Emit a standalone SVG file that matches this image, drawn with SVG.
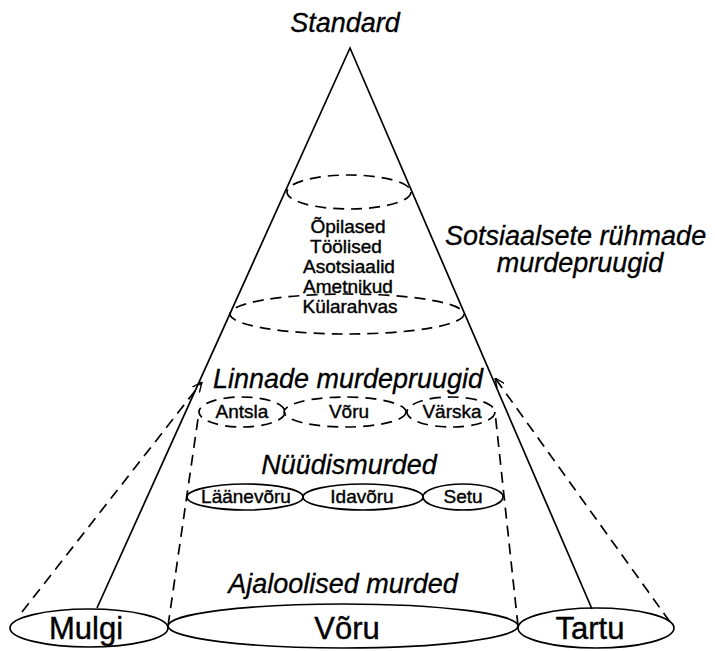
<svg xmlns="http://www.w3.org/2000/svg" width="715" height="651" viewBox="0 0 715 651">
<defs>
<style>
.ln{fill:none;stroke:#000;stroke-width:1.7}
.ds{stroke-dasharray:11 7}
.el{fill:none;stroke:#000;stroke-width:1.7}
.eld{fill:none;stroke:#000;stroke-width:1.7;stroke-dasharray:11 7}
.lbl{font-family:"Liberation Sans",Arial,sans-serif;font-style:italic;font-size:27px;fill:#000;stroke:#000;stroke-width:0.3}
.itm{font-family:"Liberation Sans",Arial,sans-serif;font-size:19px;fill:#000;text-anchor:middle;stroke:#000;stroke-width:0.4}
.big{font-family:"Liberation Sans",Arial,sans-serif;font-size:31px;fill:#000;text-anchor:middle;stroke:#000;stroke-width:0.4}
</style>
<marker id="arr" viewBox="0 0 10 10" refX="10" refY="5" markerWidth="10" markerHeight="10" markerUnits="userSpaceOnUse" orient="auto">
<path d="M0,0.5 L10,5 L0,9.5" fill="none" stroke="#000" stroke-width="1.4"/>
</marker>
</defs>
<rect width="715" height="651" fill="#fff"/>

<g id="connectors">
<polyline class="ln" points="97,608 350,48 592,609"/>
<line class="ln ds" x1="22" y1="612" x2="202" y2="382" marker-end="url(#arr)"/>
<line class="ln ds" x1="670" y1="622" x2="495" y2="378" marker-end="url(#arr)"/>
<line class="ln ds" x1="168" y1="626" x2="199" y2="412"/>
<line class="ln ds" x1="518" y1="626" x2="495" y2="412"/>
</g>

<g id="standard"><text class="lbl" x="345" y="32" text-anchor="middle">Standard</text></g>

<g id="social">
<ellipse class="eld" cx="349" cy="192" rx="62" ry="17"/>
<ellipse class="eld" cx="347" cy="314" rx="117" ry="20"/>
<text class="itm" x="348" y="233">Õpilased</text>
<text class="itm" x="346" y="253">Töölised</text>
<text class="itm" x="349" y="273">Asotsiaalid</text>
<text class="itm" x="348" y="293">Ametnikud</text>
<text class="itm" x="350" y="313">Külarahvas</text>
</g>
<g id="social-label">
<text class="lbl" x="445" y="245">Sotsiaalsete rühmade</text>
<text class="lbl" x="580" y="272" text-anchor="middle">murdepruugid</text>
</g>

<g id="linnade">
<text class="lbl" x="348" y="388" text-anchor="middle">Linnade murdepruugid</text>
</g>
<g id="antsla"><ellipse class="eld" cx="242" cy="412" rx="43" ry="15"/><text class="itm" x="242" y="418">Antsla</text></g>
<g id="voru-city"><ellipse class="eld" cx="345" cy="412" rx="61" ry="15"/><text class="itm" x="349" y="418">Võru</text></g>
<g id="varska"><ellipse class="eld" cx="451" cy="412" rx="44" ry="15"/><text class="itm" x="452" y="418">Värska</text></g>

<g id="nuudis"><text class="lbl" x="349" y="474" text-anchor="middle">Nüüdismurded</text></g>
<g id="laanevoru"><ellipse class="el" cx="245" cy="497" rx="58" ry="13"/><text class="itm" x="246" y="503">Läänevõru</text></g>
<g id="idavoru"><ellipse class="el" cx="363" cy="497" rx="60" ry="13"/><text class="itm" x="362" y="503">Idavõru</text></g>
<g id="setu"><ellipse class="el" cx="463" cy="497" rx="40" ry="13"/><text class="itm" x="463" y="503">Setu</text></g>

<g id="ajaloolised"><text class="lbl" x="343" y="593" text-anchor="middle">Ajaloolised murded</text></g>
<g id="mulgi"><ellipse class="el" cx="89" cy="628" rx="79" ry="19"/><text class="big" x="86" y="639">Mulgi</text></g>
<g id="voru"><ellipse class="el" cx="343" cy="626" rx="175" ry="22"/><text class="big" x="347" y="639">Võru</text></g>
<g id="tartu"><ellipse class="el" cx="596" cy="628" rx="78" ry="20"/><text class="big" x="590" y="639">Tartu</text></g>
</svg>
